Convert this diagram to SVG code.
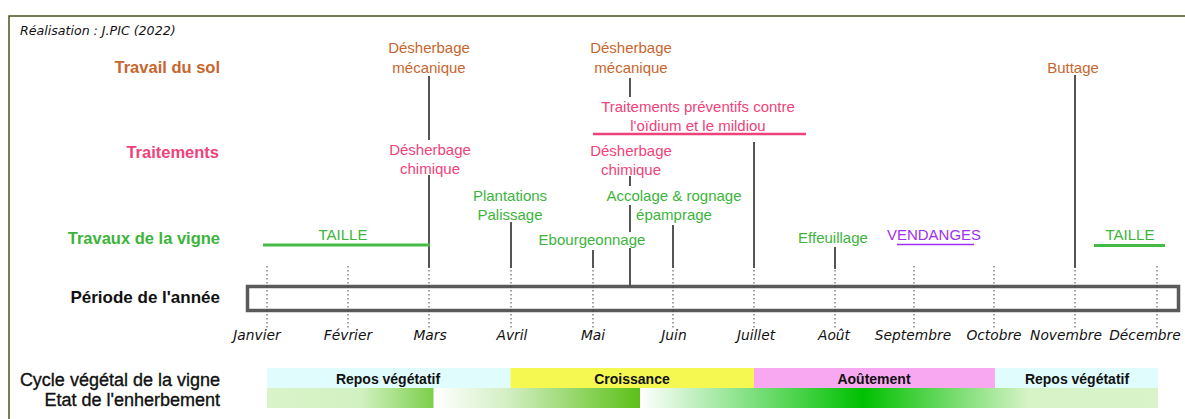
<svg xmlns="http://www.w3.org/2000/svg" width="1185" height="419" viewBox="0 0 1185 419">
<style>
text{font-family:"Liberation Sans",Arial,sans-serif;}
.lab{font-weight:bold;font-size:16.5px;text-anchor:end;}
.sol{fill:#c8662e;}
.trt{fill:#f0427a;}
.vig{fill:#3cb43c;}
.it{font-size:15px;text-anchor:middle;}
.mo{font-family:"DejaVu Sans",Verdana,sans-serif;font-style:italic;font-size:13.8px;text-anchor:middle;fill:#111;}
.vl{stroke:#555;stroke-width:2;fill:none;}
.dt{stroke:#444;stroke-width:1;stroke-dasharray:1.5 2.5;fill:none;}
.bt{font-weight:bold;font-size:14px;text-anchor:middle;fill:#111;}
.cy{font-size:18px;text-anchor:end;fill:#111;stroke:#111;stroke-width:0.35;}
</style>
<defs>
<linearGradient id="g1" x1="0" x2="1" y1="0" y2="0">
<stop offset="0" stop-color="#d8f4c8"/><stop offset="0.56" stop-color="#d2f1c2"/><stop offset="1" stop-color="#7ccf4a"/>
</linearGradient>
<linearGradient id="g2" x1="0" x2="1" y1="0" y2="0">
<stop offset="0" stop-color="#ffffff"/><stop offset="0.35" stop-color="#d4efc4"/><stop offset="1" stop-color="#5cc018"/>
</linearGradient>
<linearGradient id="g3" x1="0" x2="1" y1="0" y2="0">
<stop offset="0" stop-color="#ffffff"/><stop offset="0.43" stop-color="#00c000"/><stop offset="0.75" stop-color="#d6f3c6"/><stop offset="1" stop-color="#d8f4c8"/>
</linearGradient>
</defs>
<rect width="1185" height="419" fill="#ffffff"/>
<path d="M9 419V16H1185" stroke="#4b5320" stroke-width="1.5" fill="none"/>
<text x="20" y="35" style="font-family:'DejaVu Sans',Verdana,sans-serif;font-style:italic;font-size:12.6px;fill:#111;">Réalisation : J.PIC (2022)</text>

<g id="labels">
<text class="lab sol" x="220" y="73">Travail du sol</text>
<text class="lab trt" x="219" y="158">Traitements</text>
<text class="lab vig" x="220" y="244">Travaux de la vigne</text>
<text class="lab" x="220" y="303" fill="#111" style="font-size:17px">Période de l'année</text>
<text class="cy" x="220" y="386">Cycle végétal de la vigne</text>
<text class="cy" x="220" y="406">Etat de l'enherbement</text>
</g>

<g id="period">
<rect x="247.5" y="286.5" width="931" height="24" fill="#fff" stroke="#5a5a5a" stroke-width="3.5"/>
</g>

<g id="connectors">
<path class="dt" d="M267 266V328M348 266V328M429 266V328M511 266V328M593 266V328M673 266V328M754 266V328M835 266V328M914 266V328M994 266V328M1075 266V328M1157 266V328"/>
<path class="vl" d="M429 76V140M429 175V268"/>
<path class="vl" d="M630 78V97M630 176V186M630 205V232M630 248V286"/>
<path class="vl" d="M511 222V268M593 250V268M673 225V268M754 142V268M835 247V269M1075 75V268"/>
<path d="M263 245H430" stroke="#44bb44" stroke-width="3"/>
<path d="M1094 245.5H1165" stroke="#44bb44" stroke-width="3"/>
<path d="M593 134H806" stroke="#f0427a" stroke-width="2.5"/>
<path d="M897 244.5H974" stroke="#a030f0" stroke-width="1.6"/>
</g>

<g id="months">
<text class="mo" x="257" y="340">Janvier</text>
<text class="mo" x="348" y="340">Février</text>
<text class="mo" x="430" y="340">Mars</text>
<text class="mo" x="512" y="340">Avril</text>
<text class="mo" x="593" y="340">Mai</text>
<text class="mo" x="674" y="340">Juin</text>
<text class="mo" x="756" y="340">Juillet</text>
<text class="mo" x="834" y="340">Août</text>
<text class="mo" x="913" y="340">Septembre</text>
<text class="mo" x="994" y="340">Octobre</text>
<text class="mo" x="1066" y="340">Novembre</text>
<text class="mo" x="1145" y="340">Décembre</text>
</g>

<g id="desherbage-meca-1"><text class="it sol" x="429" y="53">Désherbage</text><text class="it sol" x="429" y="73">mécanique</text></g>
<g id="desherbage-meca-2"><text class="it sol" x="631" y="53">Désherbage</text><text class="it sol" x="631" y="73">mécanique</text></g>
<g id="buttage"><text class="it sol" x="1073" y="73">Buttage</text></g>
<g id="traitements-preventifs"><text class="it trt" x="698" y="112">Traitements préventifs contre</text><text class="it trt" x="698" y="131">l'oïdium et le mildiou</text></g>
<g id="desherbage-chim-1"><text class="it trt" x="430" y="155">Désherbage</text><text class="it trt" x="430" y="174">chimique</text></g>
<g id="desherbage-chim-2"><text class="it trt" x="631" y="156">Désherbage</text><text class="it trt" x="631" y="175">chimique</text></g>
<g id="plantations"><text class="it vig" x="510" y="201">Plantations</text><text class="it vig" x="510" y="220">Palissage</text></g>
<g id="accolage"><text class="it vig" x="674" y="201">Accolage &amp; rognage</text><text class="it vig" x="674" y="220">épamprage</text></g>
<g id="ebourgeonnage"><text class="it vig" x="592" y="245">Ebourgeonnage</text></g>
<g id="effeuillage"><text class="it vig" x="833" y="243">Effeuillage</text></g>
<g id="vendanges"><text class="it" x="934" y="240" fill="#a030f0">VENDANGES</text></g>
<g id="taille-1"><text class="it vig" x="343" y="240">TAILLE</text></g>
<g id="taille-2"><text class="it vig" x="1130" y="240">TAILLE</text></g>

<g id="cycle">
<rect x="267" y="368" width="243.5" height="20" fill="#e0fcfc"/>
<rect x="510.5" y="368" width="243.5" height="20" fill="#f4f850"/>
<rect x="754" y="368" width="241" height="20" fill="#f8a8f0"/>
<rect x="995" y="368" width="163" height="20" fill="#e0fcfc"/>
<text class="bt" x="388" y="384">Repos végétatif</text>
<text class="bt" x="632" y="384">Croissance</text>
<text class="bt" x="874" y="384">Aoûtement</text>
<text class="bt" x="1077" y="384">Repos végétatif</text>
</g>

<g id="enherbement">
<rect x="267" y="388" width="166.5" height="20" fill="url(#g1)"/>
<rect x="434" y="388" width="206" height="20" fill="url(#g2)"/>
<rect x="640" y="388" width="518" height="20" fill="url(#g3)"/>
</g>
</svg>
